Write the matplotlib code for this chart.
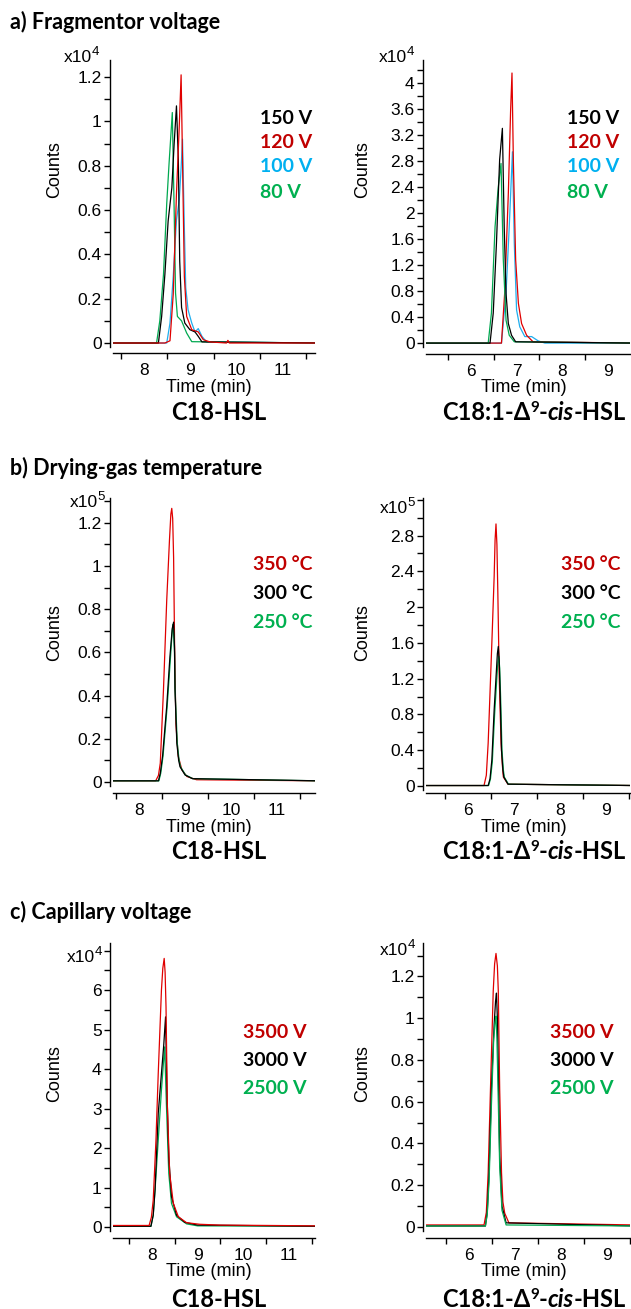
import matplotlib
matplotlib.use("Agg")
import matplotlib.pyplot as plt
from matplotlib.ticker import MultipleLocator, FuncFormatter
from matplotlib.transforms import IdentityTransform

# ---- data (time in min, counts in units of the axis multiplier) ----
# a) Fragmentor voltage, C18-HSL (x10^4)
A1_150 = [(7.3, 0.0), (8.31, 0.0), (8.38, 0.12), (8.45, 0.31), (8.52, 0.55), (8.60, 0.70), (8.65, 0.90),
          (8.70, 1.07), (8.74, 0.83), (8.77, 0.37), (8.81, 0.16), (8.88, 0.09), (8.99, 0.06), (9.10, 0.05),
          (9.17, 0.03), (9.25, 0.005), (11.8, 0.0)]
A1_120 = [(7.3, 0.0), (8.45, 0.0), (8.56, 0.01), (8.63, 0.22), (8.70, 0.675), (8.76, 0.976), (8.80, 1.21),
          (8.83, 0.83), (8.87, 0.30), (8.92, 0.12), (9.03, 0.06), (9.17, 0.05), (9.28, 0.015), (9.42, 0.005),
          (9.78, 0.0), (9.81, 0.012), (9.84, 0.0), (11.8, 0.0)]
A1_100 = [(7.3, 0.0), (8.49, 0.0), (8.56, 0.09), (8.63, 0.30), (8.70, 0.555), (8.76, 0.645), (8.80, 0.79),
          (8.83, 0.92), (8.87, 0.52), (8.90, 0.25), (8.95, 0.15), (9.03, 0.09), (9.10, 0.05), (9.17, 0.065),
          (9.25, 0.03), (9.35, 0.005), (11.8, 0.0)]
A1_80 = [(7.3, 0.0), (8.27, 0.0), (8.34, 0.10), (8.42, 0.31), (8.49, 0.63), (8.54, 0.81), (8.61, 1.04),
         (8.65, 0.60), (8.68, 0.225), (8.72, 0.12), (8.81, 0.10), (8.92, 0.045), (9.03, 0.006), (11.8, 0.0)]

# a) Fragmentor voltage, C18:1-delta9-cis-HSL (x10^4)
A2_150 = [(5.0, 0.0), (6.42, 0.0), (6.49, 0.46), (6.56, 1.53), (6.63, 2.82), (6.69, 3.30), (6.73, 1.79),
          (6.77, 0.76), (6.82, 0.30), (6.89, 0.12), (6.98, 0.02), (9.6, 0.0)]
A2_120 = [(5.0, 0.0), (6.67, 0.0), (6.74, 0.77), (6.82, 2.3), (6.87, 3.58), (6.90, 4.15), (6.93, 2.8),
          (6.98, 1.28), (7.04, 0.61), (7.11, 0.30), (7.22, 0.12), (7.36, 0.02), (9.6, 0.0)]
A2_100 = [(5.0, 0.0), (6.67, 0.0), (6.77, 0.77), (6.84, 1.79), (6.91, 2.94), (6.95, 1.54), (7.00, 0.51),
          (7.07, 0.25), (7.18, 0.10), (7.33, 0.10), (7.47, 0.035), (7.62, 0.0), (9.6, 0.0)]
A2_80 = [(5.0, 0.0), (6.38, 0.0), (6.45, 0.46), (6.53, 1.79), (6.60, 2.40), (6.66, 2.76), (6.71, 1.28),
         (6.77, 0.35), (6.84, 0.12), (6.95, 0.02), (9.6, 0.0)]

# b) Drying-gas temperature, C18-HSL (x10^5)
B1_350 = [(7.4, 0.005), (8.36, 0.005), (8.42, 0.03), (8.46, 0.087), (8.53, 0.43), (8.60, 0.84), (8.66, 1.12),
          (8.69, 1.24), (8.71, 1.267), (8.73, 1.22), (8.75, 1.04), (8.77, 0.66), (8.80, 0.27), (8.85, 0.12),
          (8.93, 0.056), (9.04, 0.025), (9.25, 0.01), (11.9, 0.005)]
B1_300 = [(7.4, 0.005), (8.42, 0.005), (8.46, 0.04), (8.51, 0.12), (8.60, 0.35), (8.67, 0.58), (8.72, 0.71),
          (8.75, 0.74), (8.77, 0.62), (8.78, 0.43), (8.82, 0.18), (8.86, 0.10), (8.89, 0.07), (9.0, 0.032),
          (9.16, 0.015), (11.9, 0.005)]
B1_250 = [(7.4, 0.005), (8.43, 0.005), (8.47, 0.04), (8.52, 0.12), (8.61, 0.35), (8.68, 0.57), (8.72, 0.70),
          (8.74, 0.73), (8.77, 0.60), (8.78, 0.44), (8.83, 0.18), (8.87, 0.10), (8.90, 0.07), (9.01, 0.032),
          (9.17, 0.015), (11.9, 0.005)]

# b) Drying-gas temperature, C18:1-delta9-cis-HSL (x10^5)
B2_350 = [(5.0, 0.005), (6.35, 0.005), (6.40, 0.12), (6.44, 0.48), (6.52, 1.60), (6.57, 2.34), (6.59, 2.75),
          (6.61, 2.93), (6.63, 2.70), (6.65, 2.16), (6.68, 1.22), (6.72, 0.48), (6.75, 0.22), (6.77, 0.10),
          (6.87, 0.02), (9.6, 0.005)]
B2_300 = [(5.0, 0.005), (6.44, 0.005), (6.48, 0.08), (6.52, 0.29), (6.57, 0.85), (6.62, 1.30), (6.64, 1.48),
          (6.66, 1.56), (6.68, 1.40), (6.70, 1.04), (6.73, 0.40), (6.76, 0.18), (6.78, 0.10), (6.87, 0.02),
          (9.6, 0.005)]
B2_250 = [(5.0, 0.005), (6.45, 0.005), (6.49, 0.08), (6.53, 0.27), (6.58, 0.80), (6.63, 1.22), (6.65, 1.38),
          (6.67, 1.45), (6.69, 1.32), (6.71, 1.00), (6.74, 0.40), (6.77, 0.18), (6.79, 0.10), (6.88, 0.02),
          (9.6, 0.005)]

# c) Capillary voltage, C18-HSL (x10^4)
C1_3500 = [(7.1, 0.04), (7.94, 0.04), (7.99, 0.25), (8.03, 0.68), (8.09, 2.2), (8.14, 3.89), (8.21, 6.0),
           (8.24, 6.55), (8.27, 6.80), (8.29, 6.45), (8.31, 5.58), (8.34, 3.05), (8.39, 1.36), (8.47, 0.60),
           (8.58, 0.26), (8.76, 0.11), (9.05, 0.07), (9.48, 0.05), (11.6, 0.03)]
C1_3000 = [(7.1, 0.02), (7.98, 0.02), (8.03, 0.30), (8.07, 0.94), (8.14, 2.88), (8.21, 3.89), (8.26, 4.6),
           (8.30, 5.32), (8.33, 3.47), (8.37, 1.78), (8.43, 0.77), (8.54, 0.30), (8.72, 0.12), (9.0, 0.05),
           (11.6, 0.02)]
C1_2500 = [(7.1, 0.02), (7.98, 0.02), (8.03, 0.30), (8.07, 0.94), (8.14, 2.2), (8.21, 3.47), (8.28, 4.56),
           (8.32, 3.05), (8.37, 1.36), (8.43, 0.60), (8.54, 0.26), (8.76, 0.08), (9.0, 0.03), (11.6, 0.02)]

# c) Capillary voltage, C18:1-delta9-cis-HSL (x10^4)
C2_3500 = [(5.0, 0.01), (6.33, 0.01), (6.38, 0.07), (6.42, 0.26), (6.48, 0.74), (6.53, 1.13), (6.56, 1.26),
           (6.59, 1.31), (6.62, 1.25), (6.64, 1.13), (6.67, 0.66), (6.71, 0.26), (6.74, 0.12), (6.78, 0.066),
           (6.87, 0.02), (9.6, 0.01)]
C2_3000 = [(5.0, 0.005), (6.36, 0.005), (6.40, 0.07), (6.44, 0.26), (6.49, 0.66), (6.55, 0.97), (6.58, 1.08),
           (6.60, 1.12), (6.62, 1.00), (6.64, 0.74), (6.67, 0.34), (6.72, 0.10), (6.81, 0.02), (9.6, 0.005)]
C2_2500 = [(5.0, 0.005), (6.36, 0.005), (6.40, 0.06), (6.44, 0.22), (6.49, 0.58), (6.54, 0.90), (6.57, 0.98),
           (6.59, 1.01), (6.61, 0.90), (6.63, 0.70), (6.67, 0.29), (6.72, 0.08), (6.81, 0.01), (9.6, 0.005)]

LABELS_A = ['150 V', '120 V', '100 V', '80 V']
LABELS_B = ['350 °C', '300 °C', '250 °C']
LABELS_C = ['3500 V', '3000 V', '2500 V']

BLACK = '#000000'
RED = '#C00000'
BLUE = '#00B0F0'
GREEN = '#00B050'
LINE_RED = '#E00000'
LINE_BLUE = '#20AEEE'
LINE_GREEN = '#00A850'

BOLD = ['Lato', 'DejaVu Sans']
SANS = ['Liberation Sans', 'DejaVu Sans']
plt.rcParams['font.family'] = SANS

W, H = 631, 1309
fig = plt.figure(figsize=(W / 100, H / 100), dpi=100)
rend = fig.canvas.get_renderer()


def fx(x):
    return x / W


def fy(y):
    return 1 - y / H


def runs_text(x, y, runs, family, weight, center=True):
    # lay out text pieces side by side (for superscripts / italics); y is baseline in px from top
    items = []
    cur = 0.0
    for s, size, style, rise in runs:
        t = fig.text(0, H - y + rise, s, transform=IdentityTransform(), fontsize=size,
                     fontweight=weight, fontstyle=style, family=family, va='baseline', ha='left')
        items.append((t, cur))
        cur += t.get_window_extent(rend).width
    start = x - cur / 2 if center else x - cur
    for t, off in items:
        t.set_x(start + off)


def panel(box, xlim, ylim, ymaj, ymin, traces, xoff, maxlab):
    x0, y0, x1, y1 = box
    ax = fig.add_axes([fx(x0), fy(y1), fx(x1 - x0), (y1 - y0) / H])
    for pts, col in traces:
        t, v = zip(*pts)
        ax.plot(t, v, color=col, lw=0.9)
    ax.set_xlim(*xlim)
    ax.set_ylim(*ylim)
    for s in ['top', 'right']:
        ax.spines[s].set_visible(False)
    ax.spines['left'].set_position(('outward', 2.2))
    ax.spines['bottom'].set_position(('outward', xoff * 0.72))
    ax.spines['left'].set_linewidth(1.0)
    ax.spines['bottom'].set_linewidth(1.0)
    ax.xaxis.set_major_locator(MultipleLocator(1))
    ax.xaxis.set_minor_locator(MultipleLocator(0.5))
    ax.yaxis.set_major_locator(MultipleLocator(ymaj))
    ax.yaxis.set_minor_locator(MultipleLocator(ymin))
    ax.yaxis.set_major_formatter(FuncFormatter(lambda v, p: f'{v:g}' if v <= maxlab + 1e-9 else ''))
    ax.tick_params(axis='x', which='major', length=0, pad=7, labelsize=12.5)
    ax.tick_params(axis='x', which='minor', length=4, width=1)
    ax.tick_params(axis='y', which='both', length=4, width=1, pad=2, labelsize=12.5)
    return ax


def labels(xc, cx, ty, ey, exp, ex, legend, lx, ly, sub, sub_y):
    fig.text(fx(xc), fy(ty), 'Time (min)', ha='center', va='center', fontsize=13)
    fig.text(fx(cx), fy((ey[0] + ey[1]) / 2), 'Counts', rotation=90, ha='center', va='center', fontsize=13)
    runs_text(ex, ey[2], [('x10', 12.5, 'normal', 0), (exp, 9.5, 'normal', 7)], SANS, 'normal', center=False)
    for i, (txt, col) in enumerate(legend):
        fig.text(fx(lx), fy(ly[i]), txt, color=col, family=BOLD, fontweight='bold', fontsize=14,
                 ha='left', va='center')
    runs_text(xc + 10, sub_y, sub, BOLD, 'bold')


SUB1 = [('C18-HSL', 17, 'normal', 0)]
SUB2 = [('C18:1-Δ', 17, 'normal', 0), ('9', 11, 'normal', 8), ('-', 17, 'normal', 0),
        ('cis', 17, 'italic', 0), ('-HSL', 17, 'normal', 0)]

# ---- row a ----
fig.text(fx(10), fy(22), 'a) Fragmentor voltage', family=BOLD, fontweight='bold', fontsize=15.5, va='center')
panel((113, 60, 315, 347), (7.33, 11.69), (-0.018, 1.277), 0.2, 0.1,
      [(A1_100, LINE_BLUE), (A1_80, LINE_GREEN), (A1_150, BLACK), (A1_120, LINE_RED)], 6, 1.2)
labels(209, 55, 387, (142, 197, 62), '4', 99,
       list(zip(LABELS_A, [BLACK, RED, BLUE, GREEN])), 260, [118, 142, 167, 192], SUB1, 420)
panel((426, 60, 630, 347), (5.02, 9.48), (-0.06, 4.35), 0.4, 0.2,
      [(A2_100, LINE_BLUE), (A2_120, LINE_RED), (A2_80, LINE_GREEN), (A2_150, BLACK)], 7, 4.0)
labels(524, 363, 387, (142, 197, 62), '4', 414,
       list(zip(LABELS_A, [BLACK, RED, BLUE, GREEN])), 567, [118, 142, 167, 192], SUB2, 420)

# ---- row b ----
fig.text(fx(10), fy(468), 'b) Drying-gas temperature', family=BOLD, fontweight='bold', fontsize=15.5, va='center')
panel((113, 498, 315, 786), (7.43, 11.83), (-0.019, 1.315), 0.2, 0.1,
      [(B1_350, LINE_RED), (B1_250, LINE_GREEN), (B1_300, BLACK)], 7, 1.2)
labels(209, 55, 828, (605, 661, 507), '5', 105,
       list(zip(LABELS_B, [RED, BLACK, GREEN])), 253, [565, 593, 622], SUB1, 859)
panel((426, 498, 630, 790), (5.09, 9.52), (-0.045, 3.22), 0.4, 0.2,
      [(B2_350, LINE_RED), (B2_250, LINE_GREEN), (B2_300, BLACK)], 3, 2.8)
labels(524, 363, 828, (605, 661, 513), '5', 415,
       list(zip(LABELS_B, [RED, BLACK, GREEN])), 561, [565, 593, 622], SUB2, 859)

# ---- row c ----
fig.text(fx(10), fy(912), 'c) Capillary voltage', family=BOLD, fontweight='bold', fontsize=15.5, va='center')
panel((113, 943, 315, 1231), (7.15, 11.57), (-0.1, 7.19), 1, 0.5,
      [(C1_2500, LINE_GREEN), (C1_3000, BLACK), (C1_3500, LINE_RED)], 7, 6)
labels(209, 55, 1272, (1046, 1101, 962), '4', 102,
       list(zip(LABELS_C, [RED, BLACK, GREEN])), 243, [1032, 1060, 1089], SUB1, 1307)
panel((426, 943, 630, 1231), (5.07, 9.5), (-0.019, 1.36), 0.2, 0.1,
      [(C2_3500, LINE_RED), (C2_3000, BLACK), (C2_2500, LINE_GREEN)], 7, 1.2)
labels(524, 363, 1272, (1046, 1101, 955), '4', 415,
       list(zip(LABELS_C, [RED, BLACK, GREEN])), 550, [1032, 1060, 1089], SUB2, 1307)

fig.savefig('out.png', dpi=100)
plt.close(fig)
